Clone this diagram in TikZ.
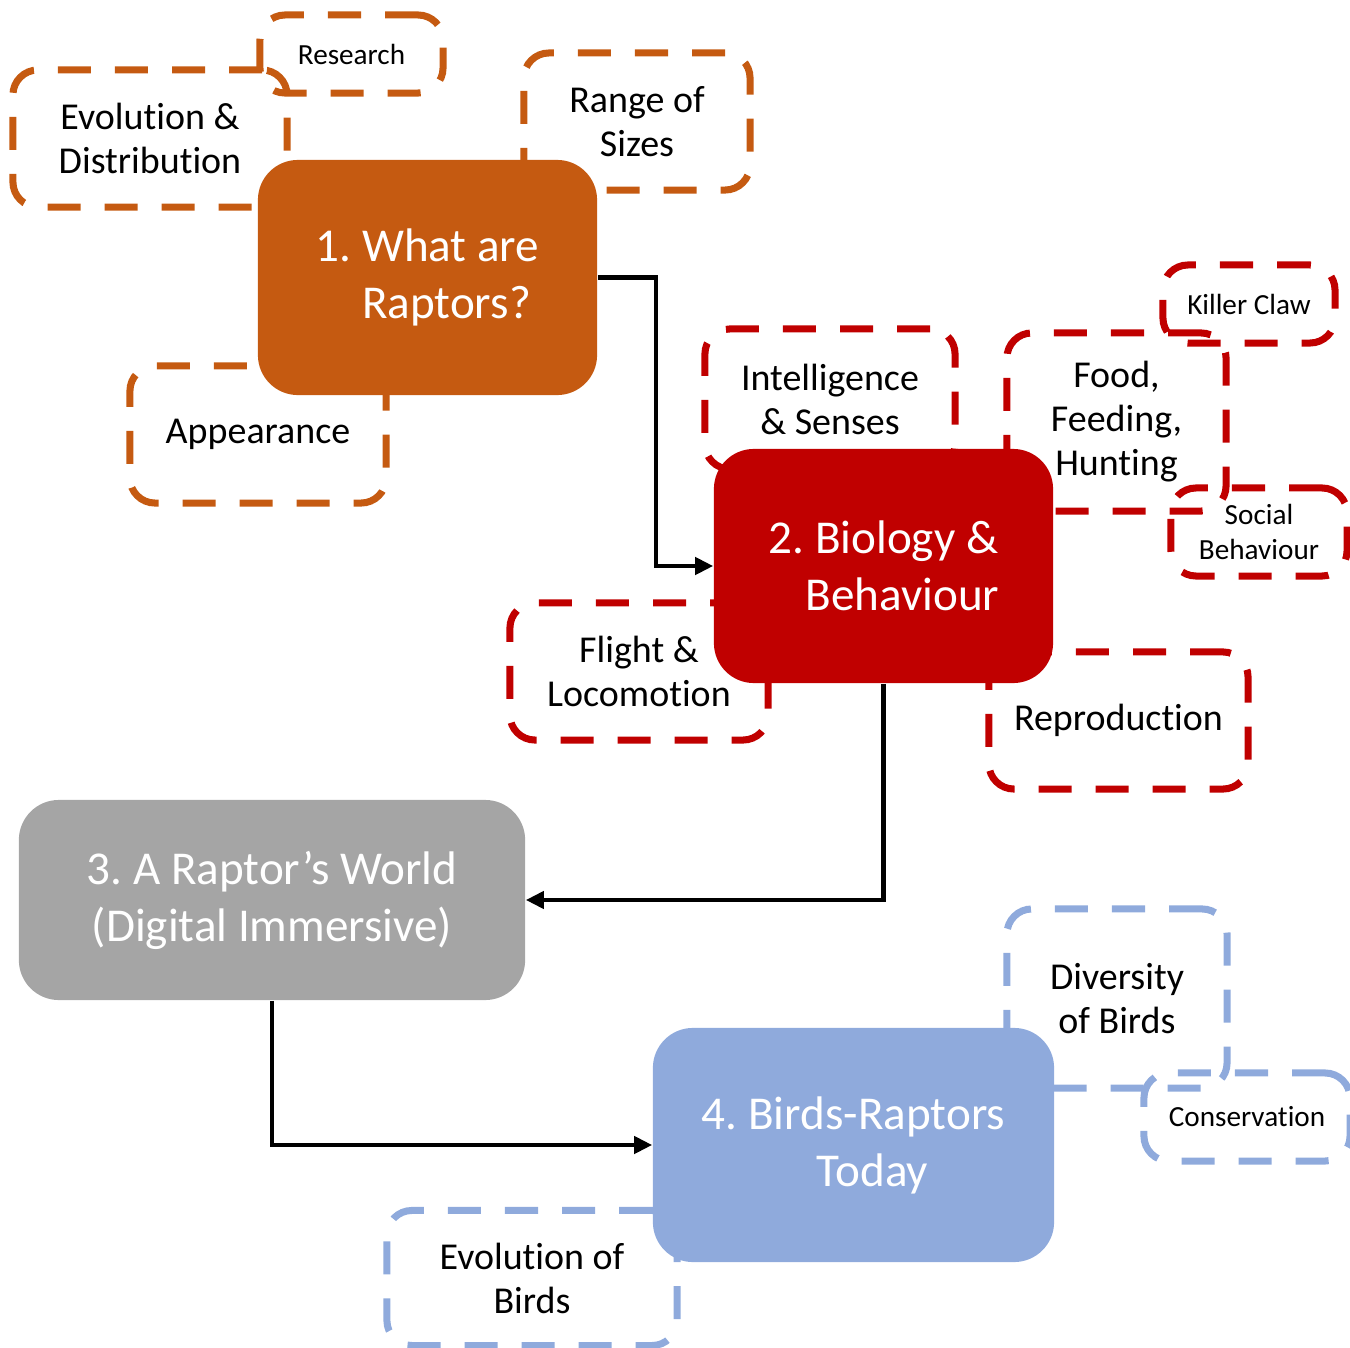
\documentclass[tikz,border=0pt]{standalone}
\usepackage{fontspec}
\setmainfont[Ligatures={NoCommon}]{Carlito}
\frenchspacing
\usetikzlibrary{arrows.meta}

\definecolor{raptorOrange}{HTML}{C55A11}
\definecolor{bioRed}{HTML}{C00000}
\definecolor{worldGrey}{HTML}{A5A5A5}
\definecolor{birdBlue}{HTML}{8FAADC}

\tikzset{
  mainbox/.style={rounded corners=0.4cm, text=white, align=center, inner sep=0pt,
    font=\fontsize{13.4}{16.2}\selectfont},
  topic/.style={draw, line width=2pt, dash pattern=on 0.33cm off 0.24cm,
    rounded corners=0.25cm, align=center, inner sep=0pt,
    font=\fontsize{10.8}{12.5}\selectfont},
  smalltopic/.style={topic, font=\fontsize{8.3}{9.7}\selectfont},
  flow/.style={-{Triangle[length=0.18cm, width=0.17cm]}, line width=1.2pt}
}

\begin{document}
\begin{tikzpicture}[x=0.01cm, y=-0.01cm]
\useasboundingbox (0,0) rectangle (1350,1348);

% sub-topics of 1
\node [smalltopic, draw=raptorOrange, minimum width=1.83cm, minimum height=0.78cm] (research) at (351.5,54) {Research};
\node [topic, draw=raptorOrange, minimum width=2.74cm, minimum height=1.37cm] (evodist) at (150,138.5) {Evolution \&\\Distribution};
\node [topic, draw=raptorOrange, minimum width=2.26cm, minimum height=1.37cm] (sizes) at (637,121.5) {Range of\\Sizes};
\node [topic, draw=raptorOrange, minimum width=2.56cm, minimum height=1.37cm] (appearance) at (258,434.5) {Appearance};

% sub-topics of 2
\node [topic, draw=bioRed, minimum width=2.50cm, minimum height=1.40cm] (senses) at (830,399) {Intelligence\\\& Senses};
\node [topic, draw=bioRed, minimum width=2.19cm, minimum height=1.78cm] (food) at (1116.5,422) {Food,\\Feeding,\\Hunting};
\node [smalltopic, draw=bioRed, minimum width=1.72cm, minimum height=0.78cm] (claw) at (1249,304) {Killer Claw};
\node [smalltopic, draw=bioRed, minimum width=1.76cm, minimum height=0.88cm] (social) at (1259,532) {Social\\Behaviour};
\node [topic, draw=bioRed, minimum width=2.58cm, minimum height=1.37cm] (flight) at (639,671.5) {Flight \&\\Locomotion};
\node [topic, draw=bioRed, minimum width=2.59cm, minimum height=1.37cm] (reproduction) at (1118.5,720.5) {Reproduction};

% sub-topics of 4
\node [topic, draw=birdBlue, minimum width=2.20cm, minimum height=1.79cm] (diversity) at (1117,998.5) {Diversity\\of Birds};
\node [smalltopic, draw=birdBlue, minimum width=2.06cm, minimum height=0.88cm] (conservation) at (1247,1117) {Conservation};
\node [topic, draw=birdBlue, minimum width=2.90cm, minimum height=1.35cm] (evobirds) at (532,1278) {Evolution of\\Birds};

% main steps
\node [mainbox, fill=raptorOrange, minimum width=3.39cm, minimum height=2.35cm] (what) at (427.5,277.5) {1. What are\\\hspace*{0.38cm}Raptors?};
\node [mainbox, fill=bioRed, minimum width=3.39cm, minimum height=2.34cm] (biology) at (883.5,566) {2. Biology \&\\\hspace*{0.38cm}Behaviour};
\node [mainbox, fill=worldGrey, minimum width=5.06cm, minimum height=2.00cm] (world) at (272,900) {3. A Raptor’s World\\(Digital Immersive)};
\node [mainbox, fill=birdBlue, minimum width=4.01cm, minimum height=2.34cm] (today) at (853.5,1145) {4. Birds-Raptors\\\hspace*{0.38cm}Today};

% flow
\draw [flow] (what.east) -- ++(58,0) |- (biology.west);
\draw [flow] (biology.south) |- (world.east);
\draw [flow] (world.south) |- (today.west);
\end{tikzpicture}
\end{document}
